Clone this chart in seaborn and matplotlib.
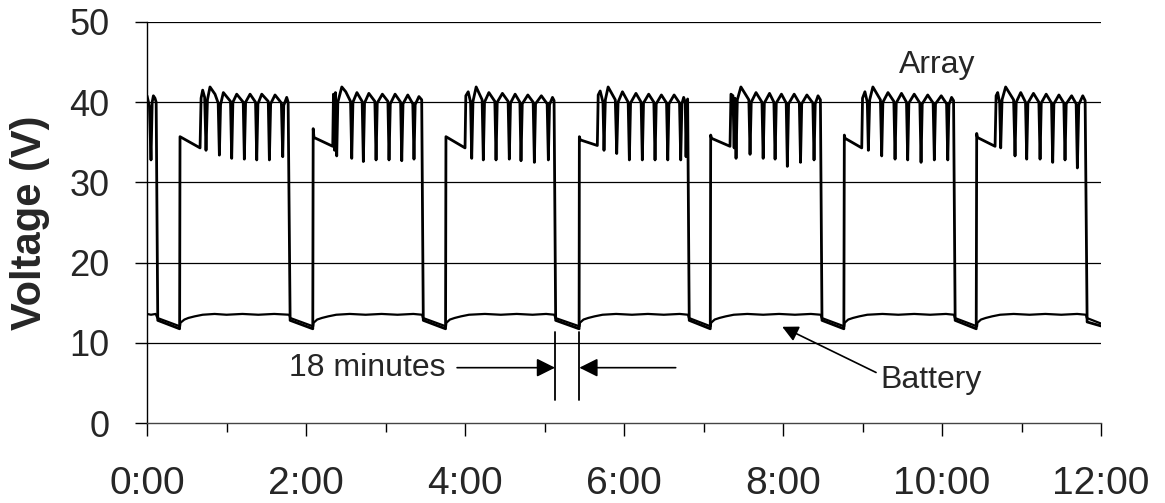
import matplotlib
matplotlib.use("Agg")
import matplotlib.pyplot as plt
import seaborn as sns
import pandas as pd

# ---- data (time in hours, voltage in V) ----
array_t = [
    # partial cycle at start
    0.0, 0.03, 0.05, 0.065, 0.08, 0.10, 0.115, 0.135, 0.41,
    # cycle 1
    0.415, 0.667, 0.68, 0.70, 0.725, 0.742, 0.76, 0.792, 0.855, 0.895, 0.910, 0.925,
    0.96, 1.05, 1.065, 1.08, 1.128, 1.21, 1.224, 1.24, 1.296, 1.365, 1.380, 1.395,
    1.443, 1.525, 1.539, 1.555, 1.61, 1.69, 1.707, 1.72, 1.757, 1.775, 1.80, 2.085,
    # cycle 2
    2.09, 2.10, 2.336, 2.345, 2.36, 2.37, 2.386, 2.40, 2.45, 2.50, 2.56, 2.575, 2.59,
    2.64, 2.706, 2.721, 2.736, 2.79, 2.866, 2.881, 2.896, 2.96, 3.03, 3.044, 3.06,
    3.12, 3.19, 3.204, 3.22, 3.28, 3.343, 3.358, 3.373, 3.42, 3.455, 3.475, 3.755,
    # cycle 3
    3.76, 4.0, 4.01, 4.04, 4.07, 4.084, 4.10, 4.14, 4.215, 4.23, 4.245, 4.30, 4.375,
    4.39, 4.405, 4.47, 4.542, 4.557, 4.572, 4.63, 4.69, 4.704, 4.72, 4.79, 4.857,
    4.872, 4.887, 4.96, 5.033, 5.048, 5.063, 5.10, 5.12, 5.14, 5.435,
    # cycle 4
    5.438, 5.45, 5.664, 5.675, 5.70, 5.735, 5.748, 5.765, 5.80, 5.89, 5.908, 5.925,
    5.98, 6.052, 6.067, 6.082, 6.15, 6.215, 6.23, 6.245, 6.31, 6.375, 6.39, 6.405,
    6.47, 6.535, 6.55, 6.565, 6.63, 6.698, 6.713, 6.728, 6.75, 6.77, 6.78, 6.79,
    6.80, 6.82, 7.085,
    # cycle 5
    7.09, 7.10, 7.333, 7.345, 7.37, 7.385, 7.395, 7.409, 7.425, 7.47, 7.57, 7.585,
    7.60, 7.66, 7.735, 7.75, 7.765, 7.83, 7.885, 7.90, 7.915, 7.98, 8.04, 8.054, 8.07,
    8.14, 8.205, 8.22, 8.235, 8.30, 8.375, 8.39, 8.405, 8.44, 8.47, 8.49, 8.765,
    # cycle 6
    8.771, 8.78, 8.99, 9.0, 9.03, 9.06, 9.073, 9.09, 9.13, 9.225, 9.241, 9.256, 9.32,
    9.394, 9.409, 9.424, 9.49, 9.553, 9.568, 9.583, 9.65, 9.721, 9.736, 9.751, 9.82,
    9.888, 9.903, 9.918, 9.99, 10.057, 10.072, 10.087, 10.12, 10.145, 10.165, 10.43,
    # cycle 7
    10.436, 10.445, 10.667, 10.68, 10.70, 10.725, 10.738, 10.755, 10.80, 10.90,
    10.918, 10.933, 10.99, 11.05, 11.065, 11.08, 11.15, 11.218, 11.233, 11.248, 11.31,
    11.377, 11.392, 11.407, 11.47, 11.532, 11.547, 11.562, 11.63, 11.687, 11.702,
    11.72, 11.77, 11.80, 11.825, 12.0,
]
array_v = [
    40.8, 39.5, 32.8, 40.0, 40.8, 40.5, 40.0, 12.8, 11.75,
    35.7, 34.3, 40.5, 41.5, 40.6, 34.0, 40.3, 41.9, 41.0, 39.9, 33.4, 39.7,
    41.2, 40.1, 33.0, 40.0, 41.0, 40.0, 32.9, 40.0, 41.0, 40.0, 32.8, 39.8,
    41.0, 40.1, 32.8, 39.8, 40.9, 39.9, 33.2, 39.6, 40.6, 40.0, 12.8, 11.75,
    36.7, 35.6, 34.5, 41.0, 34.0, 41.2, 33.3, 40.0, 41.9, 41.3, 40.1, 33.0, 40.0,
    41.2, 40.1, 32.6, 39.9, 41.1, 40.1, 32.8, 39.9, 41.0, 40.1, 32.8, 39.8,
    41.0, 40.0, 32.7, 39.8, 40.9, 39.8, 32.9, 39.7, 40.7, 40.3, 12.8, 11.75,
    35.7, 34.3, 40.8, 41.3, 40.0, 33.0, 40.1, 41.9, 40.3, 32.8, 40.0, 41.2, 40.1,
    32.8, 40.0, 41.1, 40.1, 32.9, 39.9, 41.0, 40.0, 32.7, 39.8, 40.9, 40.0,
    32.5, 39.8, 40.8, 39.8, 32.8, 39.7, 40.6, 40.2, 12.8, 11.75,
    35.7, 35.3, 34.6, 40.9, 41.4, 40.0, 34.0, 40.3, 41.9, 40.3, 33.6, 40.0,
    41.3, 40.0, 32.8, 39.9, 41.1, 40.0, 32.8, 39.9, 41.0, 40.0, 32.8, 39.8,
    40.9, 39.9, 32.8, 39.8, 40.9, 39.9, 32.8, 39.8, 40.6, 40.0, 33.2, 39.7,
    40.4, 12.8, 11.75,
    35.9, 35.5, 34.5, 41.0, 40.8, 34.3, 40.5, 33.0, 40.3, 41.9, 40.3, 33.5,
    40.0, 41.2, 40.0, 33.0, 39.9, 41.1, 40.0, 32.9, 39.9, 41.0, 39.9, 32.0, 39.8,
    41.0, 39.9, 32.5, 39.8, 40.9, 39.9, 32.8, 39.8, 40.8, 40.3, 12.8, 11.75,
    35.9, 35.5, 34.3, 40.5, 41.3, 40.0, 34.0, 40.3, 41.9, 40.3, 33.3, 40.0, 41.2,
    40.1, 32.9, 39.9, 41.1, 40.0, 32.8, 39.9, 41.0, 39.9, 32.5, 39.8, 40.9,
    39.9, 32.8, 39.8, 40.8, 39.8, 32.8, 39.7, 40.6, 40.2, 12.8, 11.75,
    36.1, 35.6, 34.5, 40.8, 41.2, 39.9, 34.3, 40.3, 41.9, 40.3,
    33.3, 40.0, 41.2, 40.0, 32.9, 39.9, 41.1, 40.0, 32.9, 39.9, 41.0,
    39.9, 32.5, 39.8, 40.9, 39.9, 32.8, 39.8, 40.8, 39.8, 31.8,
    39.7, 40.8, 40.2, 12.6, 12.1,
]

battery_t = [
    0.0, 0.05, 0.11, 0.13, 0.415,
    0.42, 0.47, 0.52, 0.60, 0.70, 0.85, 1.00, 1.20, 1.40, 1.60, 1.79, 1.80, 2.09,
    2.095, 2.14, 2.20, 2.28, 2.38, 2.55, 2.75, 2.95, 3.15, 3.35, 3.46, 3.47, 3.76,
    3.765, 3.81, 3.87, 3.95, 4.05, 4.25, 4.45, 4.65, 4.85, 5.02, 5.125, 5.135, 5.44,
    5.445, 5.49, 5.55, 5.63, 5.73, 5.90, 6.10, 6.30, 6.50, 6.70, 6.805, 6.815, 7.09,
    7.095, 7.14, 7.20, 7.28, 7.38, 7.55, 7.75, 7.95, 8.15, 8.35, 8.475, 8.485, 8.77,
    8.775, 8.82, 8.88, 8.96, 9.06, 9.25, 9.45, 9.65, 9.85, 10.05, 10.15, 10.16, 10.44,
    10.445, 10.49, 10.55, 10.63, 10.73, 10.90, 11.10, 11.30, 11.50, 11.70, 11.81,
    11.82, 12.0,
]
battery_v = [
    13.6, 13.5, 13.6, 13.1, 12.05,
    12.5, 12.9, 13.1, 13.3, 13.5, 13.6, 13.5, 13.6, 13.5, 13.6, 13.5, 13.1, 12.05,
    12.5, 12.9, 13.1, 13.3, 13.5, 13.6, 13.5, 13.6, 13.5, 13.6, 13.5, 13.1, 12.05,
    12.5, 12.9, 13.1, 13.3, 13.5, 13.6, 13.5, 13.6, 13.5, 13.6, 13.5, 13.1, 12.05,
    12.5, 12.9, 13.1, 13.3, 13.5, 13.6, 13.5, 13.6, 13.5, 13.6, 13.5, 13.1, 12.05,
    12.5, 12.9, 13.1, 13.3, 13.5, 13.6, 13.5, 13.6, 13.5, 13.6, 13.5, 13.1, 12.05,
    12.5, 12.9, 13.1, 13.3, 13.5, 13.6, 13.5, 13.6, 13.5, 13.6, 13.5, 13.1, 12.05,
    12.5, 12.9, 13.1, 13.3, 13.5, 13.6, 13.5, 13.6, 13.5, 13.6, 13.5,
    13.1, 12.4,
]

x_ticks = [0, 2, 4, 6, 8, 10, 12]
x_tick_labels = ["0:00", "2:00", "4:00", "6:00", "8:00", "10:00", "12:00"]
y_ticks = [0, 10, 20, 30, 40, 50]

# the 18 minute gap highlighted in the chart (drop and rise of cycle 4)
gap_start = 5.132
gap_end = 5.438

sns.set_style("white")
plt.rcParams["font.family"] = ["Liberation Sans", "DejaVu Sans"]

df_array = pd.DataFrame({"t": array_t, "v": array_v})
df_batt = pd.DataFrame({"t": battery_t, "v": battery_v})

fig = plt.figure(figsize=(11.65, 5.03), dpi=100)
ax = fig.add_axes([0.1262, 0.159, 0.8189, 0.7973])

for y in y_ticks[1:]:
    ax.axhline(y, color="black", lw=0.9, zorder=1)

sns.lineplot(data=df_batt, x="t", y="v", color="black", lw=1.6,
             sort=False, estimator=None, ax=ax, zorder=3)
sns.lineplot(data=df_array, x="t", y="v", color="black", lw=2.0,
             sort=False, estimator=None, ax=ax, zorder=3)

ax.set_xlim(0, 12)
ax.set_ylim(0, 50)
ax.set_xticks(x_ticks)
ax.set_xticklabels(x_tick_labels, fontsize=28)
ax.set_xticks([1, 3, 5, 7, 9, 11], minor=True)
ax.set_yticks(y_ticks)
ax.set_yticklabels([str(v) for v in y_ticks], fontsize=26)
ax.tick_params(axis="x", which="major", direction="out", length=9, width=1,
               pad=22, bottom=True, color="black")
ax.tick_params(axis="x", which="minor", direction="out", length=6.5, width=1,
               bottom=True, color="black")
ax.tick_params(axis="y", direction="out", length=9, width=1, pad=18,
               left=True, color="black")
ax.set_xlabel("")
ax.set_ylabel("Voltage (V)", fontsize=30, fontweight="bold", labelpad=14)

for s in ["top", "right"]:
    ax.spines[s].set_visible(False)
ax.spines["left"].set_color("black")
ax.spines["left"].set_linewidth(1)
ax.spines["bottom"].set_color("#444444")
ax.spines["bottom"].set_linewidth(1)

# annotations
ax.text(9.94, 44.6, "Array", fontsize=23, ha="center", va="center")
ax.text(9.23, 5.4, "Battery", fontsize=23, ha="left", va="center")
ax.annotate("", xy=(7.99, 12.0), xytext=(9.17, 6.3),
            arrowprops=dict(arrowstyle="-|>", color="black", lw=1.2,
                            mutation_scale=24, shrinkA=0, shrinkB=0))

ax.text(3.75, 6.9, "18 minutes", fontsize=23, ha="right", va="center")
ax.plot([gap_start, gap_start], [2.9, 11.3], color="black", lw=1.3)
ax.plot([gap_end, gap_end], [2.9, 11.3], color="black", lw=1.3)
ax.annotate("", xy=(gap_start, 6.9), xytext=(3.9, 6.9),
            arrowprops=dict(arrowstyle="-|>", color="black", lw=1.2,
                            mutation_scale=28, shrinkA=0, shrinkB=0))
ax.annotate("", xy=(gap_end, 6.9), xytext=(6.65, 6.9),
            arrowprops=dict(arrowstyle="-|>", color="black", lw=1.2,
                            mutation_scale=28, shrinkA=0, shrinkB=0))

fig.savefig("out.png", dpi=100)
